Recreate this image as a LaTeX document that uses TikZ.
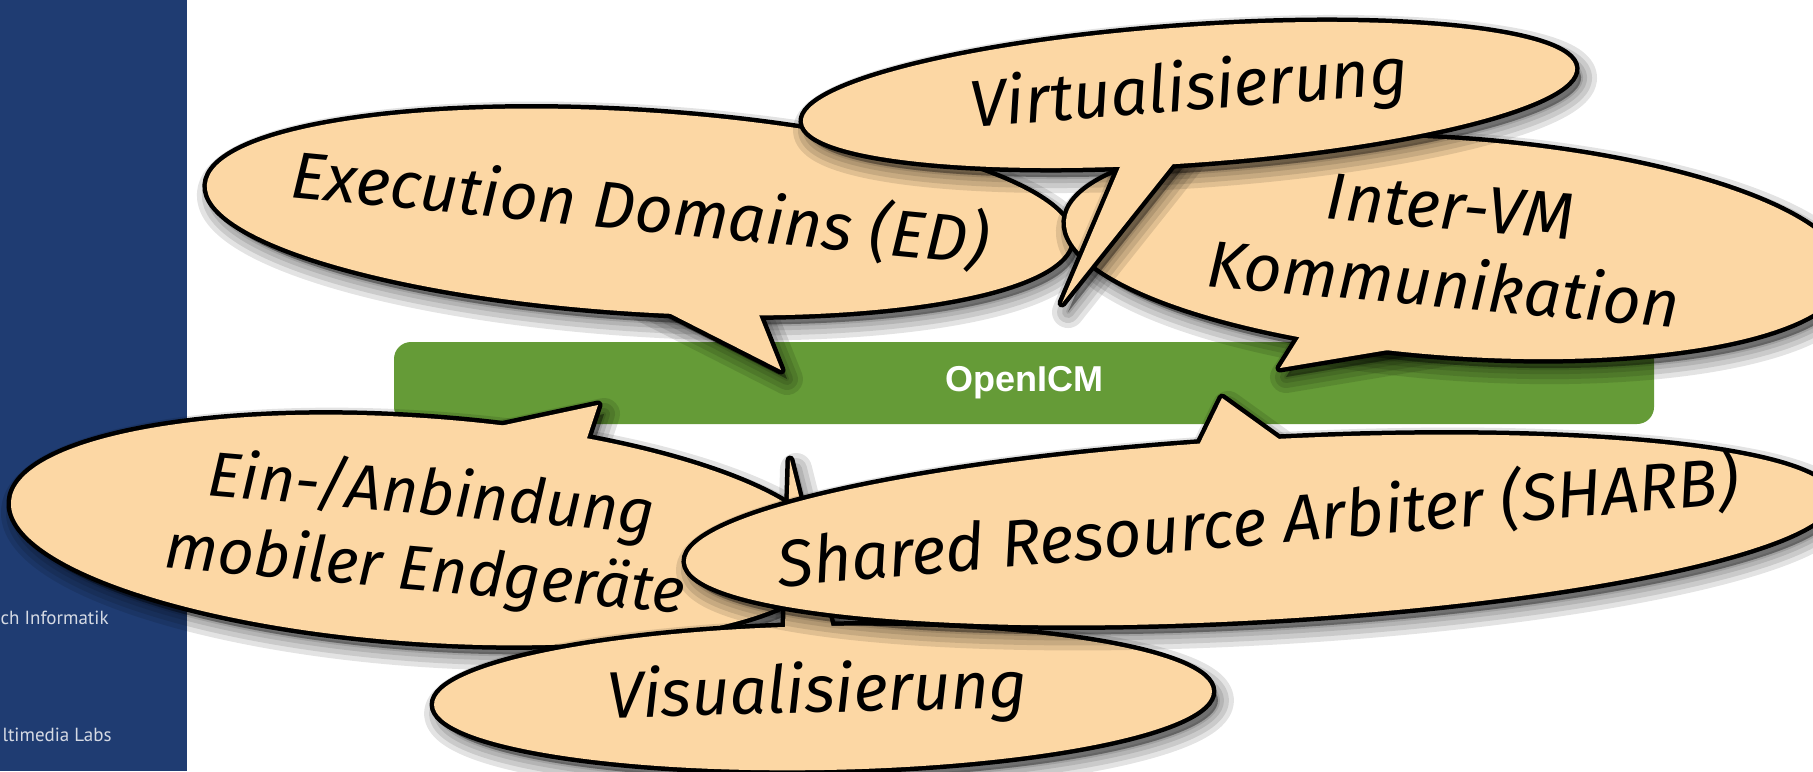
\documentclass[tikz,border=0pt]{standalone}
\usepackage{fontspec}
\usepackage{tikz}
\newfontfamily\handfont{Fira Sans}
\newfontfamily\barfont{Liberation Sans}
\newfontfamily\sidefont{PT Sans}
\definecolor{navy}{HTML}{1F3C72}
\definecolor{leaf}{HTML}{659B37}
\definecolor{peach}{HTML}{FCD7A4}
\definecolor{sidegray}{HTML}{D5DAE4}

\newcommand{\bubble}[7]{%
	\foreach \w in {16pt,11pt,6pt,2pt} {
		\filldraw[dim, line width=\w, rotate around={#4:(#1)}] (#1) ellipse [x radius=#2, y radius=#3];
		\filldraw[dim, line width=\w] (#5) -- (#6) -- (#7) -- cycle;
	}
	\draw[rim, rotate around={#4:(#1)}] (#1) ellipse [x radius=#2, y radius=#3];
	\draw[rim] (#5) -- (#6) -- (#7) -- cycle;
	\fill[talk, rotate around={#4:(#1)}] (#1) ellipse [x radius=#2, y radius=#3];
	\fill[talk] (#5) -- (#6) -- (#7) -- cycle;
}

\begin{document}
\begin{tikzpicture}[x=0.5pt, y=-0.5pt]
	\tikzset {dim/.style={black, opacity=.11, line join=round, shift={(6,9)}}, rim/.style={black, line width=4.5pt, line join=round}, talk/.style={fill=peach}, say/.style={font=\handfont\itshape\fontsize{33}{39}\selectfont, align=center, inner sep=0pt}, greenbar/.style={fill=leaf, rounded corners=8.5pt, minimum width=630pt, minimum height=41pt, text=white, font=\barfont\bfseries\fontsize{18}{20}\selectfont}, sidetext/.style={text=sidegray, font=\sidefont\fontsize{9.5}{11}\selectfont, inner sep=0pt} }
	\useasboundingbox (0,0) rectangle (1813,771);
	\fill[navy] (0,0) rectangle (187,771);
	\node[sidetext, anchor=base east] (7) at (109,624) {ch Informatik};
	\node[sidetext, anchor=base east] (8) at (112,741) {ltimedia Labs};
	\node[greenbar] (0) at (1024,383) {OpenICM};
	\bubble{639,212}{433}{100}{-3.6}{604,280}{781,370}{745,280}
	\node[say, rotate=-5.5] (1) at (640,208) {Execution Domains (ED)};
	\bubble{1455,248}{390}{108}{-4}{1324,298}{1280,368}{1460,338}
	\node[say, rotate=-5] (2) at (1447,246) {Inter-VM\\Kommunikation};
	\bubble{1189,95}{387}{68}{4}{1140,120}{1062,303}{1211,116}
	\node[say, rotate=4.5] (3) at (1189,92) {Virtualisierung};
	\bubble{420,530}{410}{112}{-4}{402,447}{598,405}{570,489}
	\node[say, rotate=-5, font=\handfont\itshape\fontsize{31.5}{38}\selectfont] (4) at (428,534) {Ein-/Anbindung\\mobiler Endgeräte};
	\bubble{823,698}{389}{72}{1}{784,660}{790,460}{840,660}
	\node[say, rotate=1.5] (5) at (817,694) {Visualisierung};
	\bubble{1259,530}{574}{90}{3.2}{1180,484}{1222,398}{1315,465}
	\node[say, rotate=5] (6) at (1258,522) {Shared Resource Arbiter (SHARB)};
\end{tikzpicture}
\end{document}
